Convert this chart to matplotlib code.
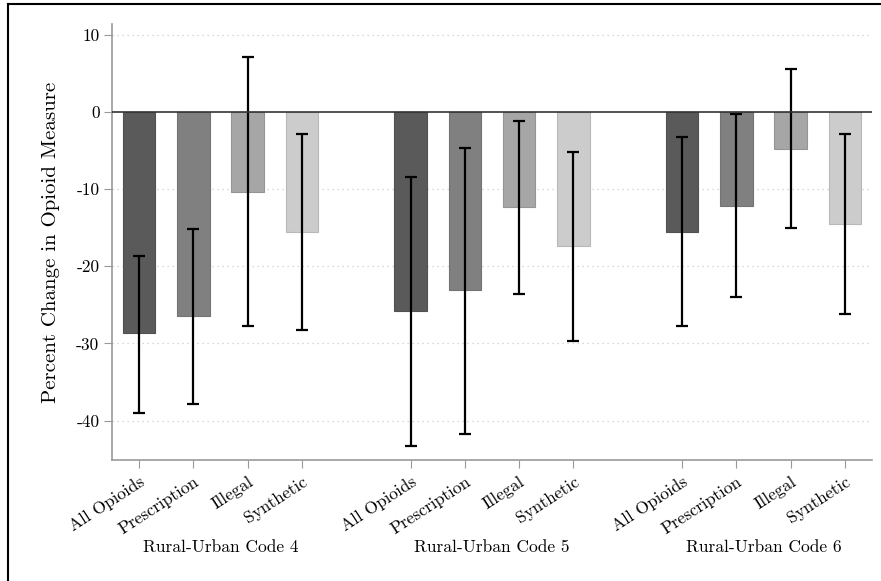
import matplotlib
matplotlib.use("Agg")
import matplotlib.pyplot as plt
import numpy as np
from matplotlib.lines import Line2D

plt.rcParams['font.family'] = ['cmr10', 'DejaVu Serif']
plt.rcParams['axes.unicode_minus'] = False
plt.rcParams['axes.formatter.use_mathtext'] = True

groups = ["Rural-Urban Code 4", "Rural-Urban Code 5", "Rural-Urban Code 6"]
measures = ["All Opioids", "Prescription", "Illegal", "Synthetic"]
colors = ["#5a5a5a", "#808080", "#a6a6a6", "#cccccc"]

estimates = [
    [-28.7, -26.5, -10.4, -15.6],
    [-25.8, -23.1, -12.3, -17.4],
    [-15.5, -12.2, -4.8, -14.5],
]
ci_upper = [
    [-18.6, -15.2, 7.1, -2.9],
    [-8.4, -4.7, -1.2, -5.2],
    [-3.2, -0.3, 5.6, -2.9],
]
ci_lower = [
    [-39.0, -37.8, -27.8, -28.3],
    [-43.3, -41.7, -23.6, -29.7],
    [-27.7, -24.0, -15.1, -26.2],
]
yticks = [10, 0, -10, -20, -30, -40]

fig = plt.figure(figsize=(8.81, 5.81), dpi=100)
ax = fig.add_axes([112/881, 1-460/581, (872-112)/881, (460-24)/581])

pos = []
for g in range(3):
    for m in range(4):
        x = g*5 + m
        pos.append(x)
        ax.bar(x, estimates[g][m], width=0.6, color=colors[m],
               edgecolor=matplotlib.colors.to_hex(np.array(matplotlib.colors.to_rgb(colors[m]))*0.9),
               linewidth=0.8, zorder=2)
        ax.errorbar(x, estimates[g][m],
                    yerr=[[estimates[g][m]-ci_lower[g][m]], [ci_upper[g][m]-estimates[g][m]]],
                    fmt='none', ecolor='black', elinewidth=1.6, capsize=4, capthick=1.6, zorder=3)

ax.axhline(0, color='#333333', linewidth=1.2, zorder=4)
ax.set_xlim(-0.5, 13.5)
ax.set_ylim(-45.1, 11.4)
ax.set_yticks(yticks)
ax.set_yticklabels([str(t) for t in yticks], fontsize=12.5)
for t in yticks:
    if t != 0:
        ax.axhline(t, color='#cccccc', linestyle=(0, (1, 3)), linewidth=0.9, zorder=1)

ax.set_xticks(pos)
ax.set_xticklabels(measures*3, rotation=33, ha='right', rotation_mode='anchor', fontsize=12.5)
ax.tick_params(axis='x', length=6, color='#999999', pad=4)
ax.tick_params(axis='y', length=6, color='#999999', pad=3)

for s in ['top', 'right']:
    ax.spines[s].set_visible(False)
for s in ['left', 'bottom']:
    ax.spines[s].set_color('#999999')
    ax.spines[s].set_linewidth(1.2)

ax.set_ylabel("Percent Change in Opioid Measure", fontsize=15, labelpad=12)

for g, name in enumerate(groups):
    ax.text(g*5 + 1.5, -0.2, name, transform=ax.get_xaxis_transform(),
            ha='center', va='center', fontsize=12.5)

fig.add_artist(Line2D([8/881, 8/881], [0, 1-4/581], color='black', linewidth=1.5))
fig.add_artist(Line2D([8/881, 1], [1-4/581, 1-4/581], color='black', linewidth=1.5))

fig.savefig("out.png", dpi=100)
